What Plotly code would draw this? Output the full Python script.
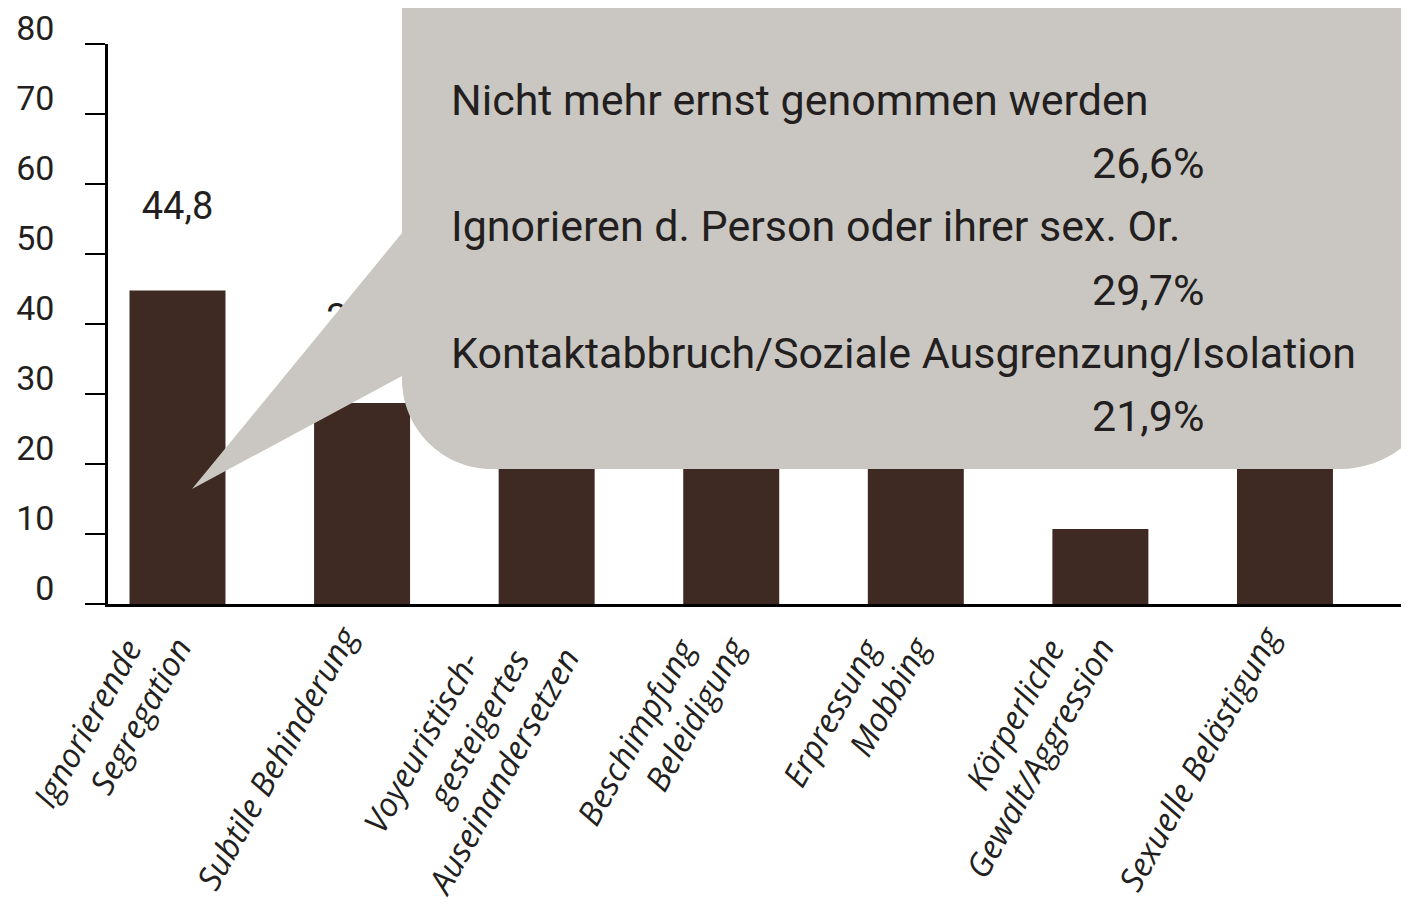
import plotly.graph_objects as go

# ---- data ----
categories = [
    ["Ignorierende", "Segregation"],
    ["Subtile Behinderung"],
    ["Voyeuristisch-", "gesteigertes", "Auseinandersetzen"],
    ["Beschimpfung", "Beleidigung"],
    ["Erpressung", "Mobbing"],
    ["Körperliche", "Gewalt/Aggression"],
    ["Sexuelle Belästigung"],
]
values = [44.8, 28.7, 24.0, 31.5, 25.4, 10.7, 21.0]
# value labels of the other bars lie hidden behind the speech bubble
label_visible = [True, True, False, False, False, False, False]

y_ticks = [0, 10, 20, 30, 40, 50, 60, 70, 80]

bubble_items = [
    "Nicht mehr ernst genommen werden",
    "Ignorieren d. Person oder ihrer sex. Or.",
    "Kontaktabbruch/Soziale Ausgrenzung/Isolation",
]
bubble_pcts = [26.6, 29.7, 21.9]

# ---- styling ----
BAR = "#3e2a23"
BUBBLE = "#cac7c2"
TXT = "#231f20"
COND = "Roboto, Liberation Sans, Arial, sans-serif"
ITAL = "Open Sans, sans-serif"

# page body has an 8px margin: figure starts at (8, 8) on screen
OFF = 8
FW, FH = 1409 - OFF, 917 - 2 * OFF
# plot area on screen
SL, SR, ST, SB = 108, 1409, 44, 604
PW, PH = SR - SL, SB - ST
ML, MT = SL - OFF, ST - OFF
MR = (FW + OFF) - SR
MB = (FH + OFF) - SB


def px(x):
    return (x - SL) / PW


def py(y):
    return (SB - y) / PH


def P(x, y):
    return f"{px(x):.5f},{py(y):.5f}"


# tick text: earlier lines get trailing padding so the line ends step sideways
def tick_label(lines):
    n = len(lines)
    return "<br>".join(l + "\u00a0" * (3 * (n - 1 - i)) for i, l in enumerate(lines))


xpos = list(range(len(categories)))
ticktext = [tick_label(c) for c in categories]

fig = go.Figure()

fig.add_trace(go.Bar(
    x=xpos, y=values, width=0.52,
    marker=dict(color=BAR, line=dict(width=0)),
    hoverinfo="skip", showlegend=False,
))

label_offset = 11.6
fig.add_trace(go.Scatter(
    x=xpos, y=[v + label_offset for v in values],
    mode="text",
    text=[f"{v:.1f}".replace(".", ",") if s else "" for v, s in zip(values, label_visible)],
    textposition="middle center",
    textfont=dict(family=COND, size=38, color=TXT),
    hoverinfo="skip", showlegend=False, cliponaxis=False,
))

# speech bubble
k = 0.5523
r1, c1 = 90, (492, 379)
r2, c2 = 100, (1340, 369)
path = (
    f"M {P(402, -40)} L {P(402, 233)} L {P(192, 489)} L {P(402, 376)} "
    f"L {P(c1[0] - r1, c1[1])} "
    f"C {P(c1[0] - r1, c1[1] + k * r1)} {P(c1[0] - k * r1, c1[1] + r1)} {P(c1[0], c1[1] + r1)} "
    f"L {P(c2[0], c2[1] + r2)} "
    f"C {P(c2[0] + k * r2, c2[1] + r2)} {P(c2[0] + r2, c2[1] + k * r2)} {P(c2[0] + r2, c2[1])} "
    f"L {P(c2[0] + r2, -40)} Z"
)
fig.add_shape(type="path", path=path, xref="paper", yref="paper",
              fillcolor=BUBBLE, line=dict(width=0), layer="above")

row_y = [100, 163, 226, 290, 353, 416]
for i, (item, pct) in enumerate(zip(bubble_items, bubble_pcts)):
    fig.add_annotation(
        x=px(449), y=py(row_y[2 * i]), xref="paper", yref="paper",
        xanchor="left", yanchor="middle", showarrow=False,
        text=item, font=dict(family=COND, size=43, color=TXT),
    )
    fig.add_annotation(
        x=px(1206), y=py(row_y[2 * i + 1]), xref="paper", yref="paper",
        xanchor="right", yanchor="middle", showarrow=False,
        text=f"{pct:.1f}".replace(".", ",") + "%",
        font=dict(family=COND, size=43, color=TXT),
    )

fig.update_layout(
    width=FW, height=FH,
    margin=dict(l=ML, r=MR, t=MT, b=MB, pad=0),
    paper_bgcolor="white", plot_bgcolor="white",
    xaxis=dict(
        range=[-0.3765, 6.672], automargin=False,
        tickvals=xpos, ticktext=ticktext,
        showline=True, linecolor="black", linewidth=2.5,
        ticks="", showgrid=False, zeroline=False,
        tickangle=-61,
        tickfont=dict(family=ITAL, size=33, color=TXT, style="italic"),
        ticklabelshift=-18, ticklabelstandoff=-2,
    ),
    yaxis=dict(
        range=[0, 80], tickvals=y_ticks, automargin=False,
        showline=True, linecolor="black", linewidth=2.5,
        ticks="outside", ticklen=20, tickwidth=2, tickcolor="black",
        showgrid=False, zeroline=False,
        tickfont=dict(family=COND, size=34, color=TXT),
        ticklabelshift=-16, ticklabelstandoff=24,
        ticklabeloverflow="allow",
    ),
)

fig.write_html("out.html")
